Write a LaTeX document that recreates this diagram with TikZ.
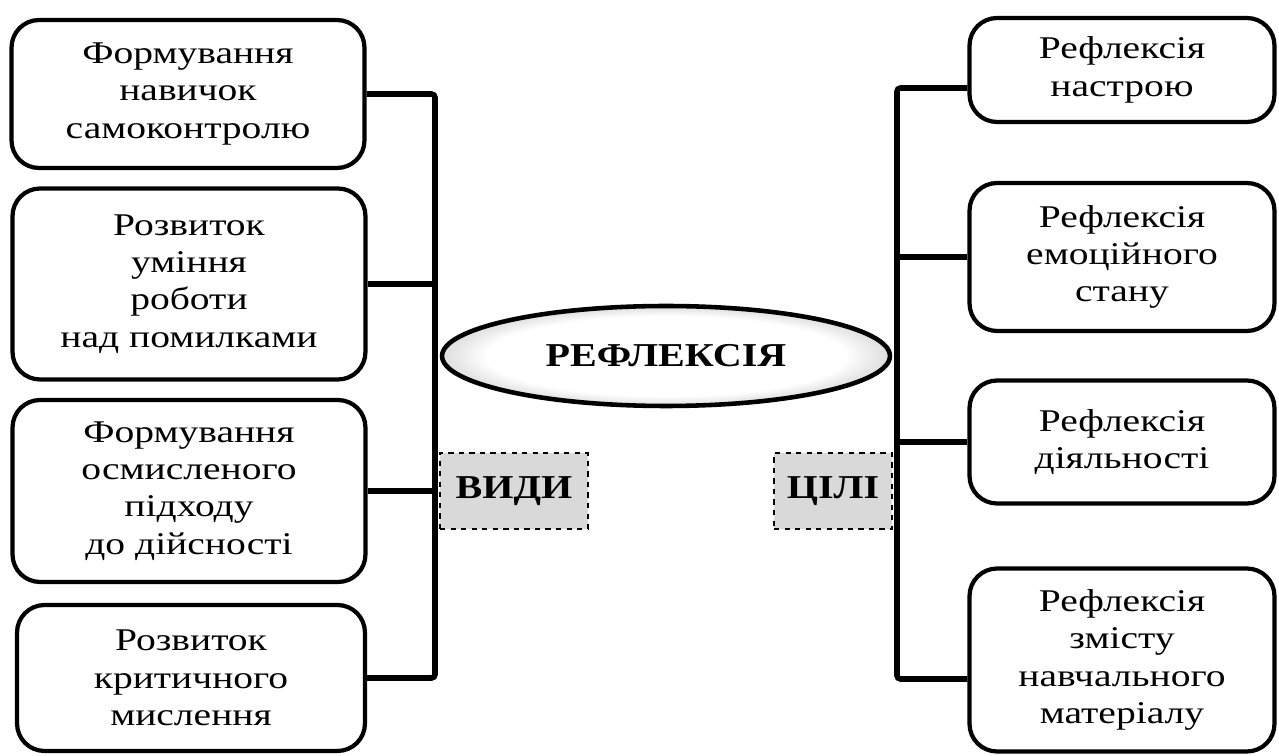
\documentclass[tikz,border=0pt]{standalone}
\usepackage{fontspec}
\setmainfont{Liberation Serif}[FakeStretch=1.25]
\newfontfamily\labfont{Liberation Serif}[FakeStretch=1.2]
\usepackage{tikz}
\usetikzlibrary{shapes.geometric, calc}
\pgfdeclareradialshading{glow}{\pgfpoint{0bp}{0bp}}{color(0bp)=(white); color(20bp)=(white); color(35bp)=(gray!80); color(100bp)=(gray!80)}
\tikzstyle{block} = [rectangle, rounded corners=0.55cm, draw=black, line width=2.4pt, align=center, font=\fontsize{18}{21.2}\selectfont]
\tikzstyle{tag} = [rectangle, draw=black, dashed, line width=0.8pt, fill=black!15, minimum height=1.52cm, font=\labfont\bfseries\fontsize{19}{22}\selectfont]
\tikzstyle{bus} = [line width=3.2pt, rounded corners=2pt]

\begin{document}
\begin{tikzpicture}[x=0.02cm, y=-0.02cm]
        \useasboundingbox (0,0) rectangle (1279,756);
        \node (selfctrl) [block, minimum width=7.06cm, minimum height=2.96cm] at (188,94) {Формування\\навичок\\самоконтролю};
        \node (mistakes) [block, minimum width=7.06cm, minimum height=3.82cm] at (189,284) {Розвиток\\уміння\\роботи\\над помилками};
        \node (approach) [block, minimum width=7.06cm, minimum height=3.64cm] at (189,491) {Формування\\осмисленого\\підходу\\до дійсності};
        \node (critical) [block, minimum width=6.96cm, minimum height=2.92cm] at (191,678) {Розвиток\\критичного\\мислення};
        \node (mood) [block, minimum width=6.1cm, minimum height=2.08cm] at (1122,70) {Рефлексія\\настрою};
        \node (emotion) [block, minimum width=6.1cm, minimum height=2.96cm] at (1122,257) {Рефлексія\\емоційного\\стану};
        \node (activity) [block, minimum width=6.1cm, minimum height=2.46cm] at (1122,442) {Рефлексія\\діяльності};
        \node (content) [block, minimum width=6.1cm, minimum height=3.66cm] at (1122,660) {Рефлексія\\змісту\\навчального\\матеріалу};
        \coordinate (lbus) at (435,0);
        \coordinate (rbus) at (897,0);
        \coordinate (moodin) at ([yshift=-0.36cm]mood.west);
        \coordinate (contentin) at ([yshift=-0.38cm]content.west);
        \draw [bus] (selfctrl.east) -| (lbus |- critical.east) -- (critical.east);
        \draw [bus] (mistakes.east) -- (mistakes.east -| lbus);
        \draw [bus] (approach.east) -- (approach.east -| lbus);
        \draw [bus] (moodin) -| (rbus |- contentin) -- (contentin);
        \draw [bus] (emotion.west) -- (emotion.west -| rbus);
        \draw [bus] (activity.west) -- (activity.west -| rbus);
        \node (refl) [ellipse, draw=black, line width=2.6pt, shading=glow, minimum width=8.96cm, minimum height=2.0cm, inner sep=0pt, font=\labfont\bfseries\fontsize{19}{22}\selectfont] at (666,356) {РЕФЛЕКСІЯ};
        \node (kinds) [tag, minimum width=2.96cm] at (514,491) {ВИДИ};
        \node (goals) [tag, minimum width=2.36cm] at (833,491) {ЦІЛІ};
    \end{tikzpicture}
\end{document}
